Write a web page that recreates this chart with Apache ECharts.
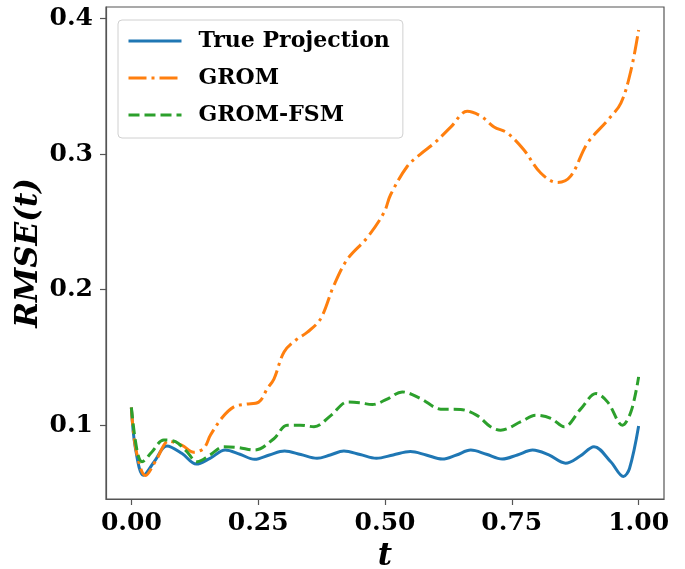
<!DOCTYPE html>
<html>
<head>
<meta charset="utf-8">
<script src="https://cdn.jsdelivr.net/npm/echarts@6/dist/echarts.min.js"></script>
<style>
  html, body { margin: 0; padding: 0; background: #fff; }
  #chart { width: 685px; height: 569px; }
</style>
</head>
<body>
<div id="chart"></div>
<script>
// Time samples and RMSE values for each model
const tTrue = [0, 0.008, 0.024, 0.045, 0.070, 0.100, 0.128, 0.155, 0.185, 0.214,
  0.243, 0.272, 0.302, 0.334, 0.366, 0.392, 0.419, 0.451, 0.483, 0.516,
  0.550, 0.581, 0.613, 0.641, 0.669, 0.700, 0.731, 0.761, 0.791, 0.823,
  0.856, 0.884, 0.912, 0.945, 0.970, 0.982, 1.000];
const rmseTrue = [0.113, 0.083, 0.063, 0.073, 0.0846, 0.079, 0.0713, 0.0755, 0.0816, 0.0785,
  0.0748, 0.078, 0.0809, 0.0783, 0.0755, 0.078, 0.0809, 0.0783, 0.0755, 0.078,
  0.0805, 0.078, 0.075, 0.078, 0.0816, 0.0785, 0.075, 0.078, 0.0816, 0.078,
  0.0719, 0.077, 0.0841, 0.073, 0.0621, 0.068, 0.0993];

const tGrom = [0, 0.009, 0.028, 0.050, 0.074, 0.100, 0.123, 0.143, 0.156, 0.180,
  0.202, 0.225, 0.251, 0.268, 0.281, 0.301, 0.325, 0.347, 0.373, 0.399,
  0.426, 0.465, 0.498, 0.511, 0.544, 0.570, 0.597, 0.630, 0.662, 0.689,
  0.715, 0.741, 0.774, 0.807, 0.840, 0.866, 0.899, 0.939, 0.965, 0.985, 1.000];
const rmseGrom = [0.113, 0.082, 0.0628, 0.075, 0.0882, 0.085, 0.080, 0.083, 0.0927, 0.106,
  0.1135, 0.1155, 0.117, 0.127, 0.134, 0.154, 0.163, 0.1686, 0.1784, 0.2029,
  0.2225, 0.2384, 0.2568, 0.270, 0.291, 0.300, 0.308, 0.320, 0.3315, 0.328,
  0.320, 0.3156, 0.303, 0.286, 0.279, 0.2837, 0.308, 0.325, 0.3376, 0.362, 0.3915];

const tFsm = [0, 0.011, 0.021, 0.040, 0.064, 0.087, 0.108, 0.130, 0.155, 0.182,
  0.210, 0.243, 0.281, 0.307, 0.333, 0.360, 0.393, 0.426, 0.450, 0.475,
  0.503, 0.534, 0.570, 0.610, 0.649, 0.682, 0.708, 0.728, 0.768, 0.797,
  0.827, 0.853, 0.886, 0.916, 0.939, 0.968, 0.985, 1.000];
const rmseFsm = [0.113, 0.0816, 0.073, 0.080, 0.089, 0.0878, 0.081, 0.073, 0.078, 0.084,
  0.0835, 0.0816, 0.090, 0.100, 0.100, 0.0988, 0.107, 0.117, 0.1165, 0.1152,
  0.119, 0.1245, 0.1196, 0.1118, 0.1115, 0.107, 0.0988, 0.0963, 0.1025, 0.1073,
  0.105, 0.0988, 0.112, 0.1233, 0.117, 0.100, 0.110, 0.1356];

const seriesNames = ['True Projection', 'GROM', 'GROM-FSM'];
const xTicks = [0, 0.25, 0.5, 0.75, 1.0];
const yTicks = [0.1, 0.2, 0.3, 0.4];

const zip = (xs, ys) => xs.map((x, i) => [x, ys[i]]);

const axisColor = '#555';
const tickFont = { fontFamily: 'DejaVu Serif', fontWeight: 'bold', fontSize: 25, color: '#000' };
const titleFont = { fontFamily: 'DejaVu Serif', fontStyle: 'italic', fontWeight: 'bold', fontSize: 31, color: '#000' };

const chart = echarts.init(document.getElementById('chart'), null, { renderer: 'canvas' });

chart.setOption({
  animation: false,
  backgroundColor: '#fff',
  grid: {
    left: 106, right: 21, top: 7, bottom: 70,
    containLabel: false, outerBoundsMode: 'none',
    show: true, borderColor: axisColor, borderWidth: 1.2, backgroundColor: 'transparent'
  },
  legend: {
    left: 118, top: 20,
    orient: 'vertical',
    itemWidth: 53, itemHeight: 14, itemGap: 11,
    padding: [8, 13, 10, 9],
    backgroundColor: '#fff',
    borderColor: '#d0d0d0', borderWidth: 1, borderRadius: 4,
    itemStyle: { opacity: 0 },
    lineStyle: { width: 3 },
    textStyle: {
      fontFamily: 'DejaVu Serif', fontWeight: 'bold', fontSize: 22,
      color: '#000', lineHeight: 26, padding: [0, 0, 0, 12]
    },
    data: seriesNames
  },
  xAxis: {
    type: 'value', min: -0.05, max: 1.05,
    name: 't', nameLocation: 'middle', nameGap: 42, nameMoveOverlap: false,
    nameTextStyle: titleFont,
    axisLine: { show: true, onZero: false, lineStyle: { color: axisColor, width: 1.2 } },
    splitLine: { show: false },
    axisTick: { show: true, length: 6, lineStyle: { color: axisColor, width: 1.2 }, customValues: xTicks },
    axisLabel: Object.assign({ margin: 12, customValues: xTicks, formatter: v => v.toFixed(2) }, tickFont)
  },
  yAxis: {
    type: 'value', min: 0.0455, max: 0.4085,
    name: 'RMSE(t)', nameLocation: 'middle', nameGap: 62, nameRotate: 90, nameMoveOverlap: false,
    nameTextStyle: titleFont,
    axisLine: { show: true, onZero: false, lineStyle: { color: axisColor, width: 1.2 } },
    splitLine: { show: false },
    axisTick: { show: true, length: 6, lineStyle: { color: axisColor, width: 1.2 }, customValues: yTicks },
    axisLabel: Object.assign({ margin: 13, customValues: yTicks, formatter: v => v.toFixed(1) }, tickFont)
  },
  series: [
    {
      name: seriesNames[0], type: 'line', data: zip(tTrue, rmseTrue),
      smooth: 0.35, showSymbol: false, symbol: 'none', z: 2,
      lineStyle: { color: '#1f77b4', width: 3 }, itemStyle: { color: '#1f77b4' }
    },
    {
      name: seriesNames[1], type: 'line', data: zip(tGrom, rmseGrom),
      smooth: 0.35, showSymbol: false, symbol: 'none', z: 3,
      lineStyle: { color: '#ff7f0e', width: 3, type: [18, 5, 3, 5] }, itemStyle: { color: '#ff7f0e' }
    },
    {
      name: seriesNames[2], type: 'line', data: zip(tFsm, rmseFsm),
      smooth: 0.35, showSymbol: false, symbol: 'none', z: 4,
      lineStyle: { color: '#2ca02c', width: 3, type: [11, 5] }, itemStyle: { color: '#2ca02c' }
    }
  ]
});
</script>
</body>
</html>
